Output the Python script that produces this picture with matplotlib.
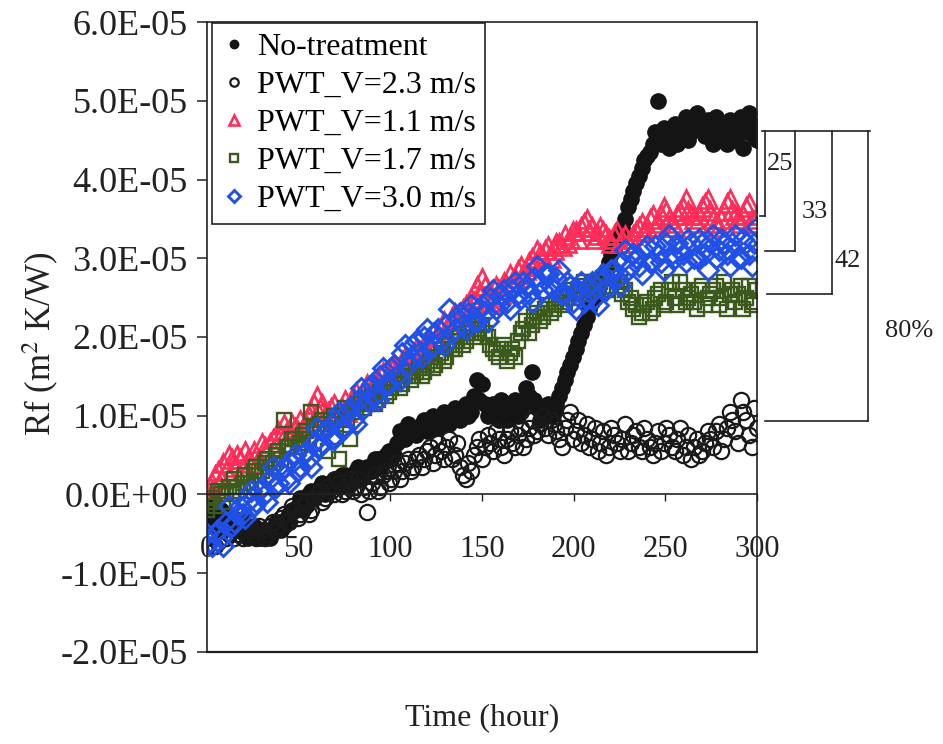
import numpy as np
import matplotlib.pyplot as plt
from matplotlib.ticker import FuncFormatter

plt.rcParams['font.family'] = ['Liberation Serif', 'DejaVu Serif']
plt.rcParams['mathtext.fontset'] = 'stix'

SCALE = 1e-5

hours = [
    0, 3, 6, 9, 12, 15, 18, 21, 24, 27, 30, 33, 36, 39, 42, 45, 48, 51, 54, 57,
    60, 63, 66, 69, 72, 75, 78, 81, 84, 87, 90, 93, 96, 99, 102, 105, 108, 111, 114, 117,
    120, 123, 126, 129, 132, 135, 138, 141, 144, 147, 150, 153, 156, 159, 162, 165, 168, 171, 174, 177,
    180, 183, 186, 189, 192, 195, 198, 201, 204, 207, 210, 213, 216, 219, 222, 225, 228, 231, 234, 237,
    240, 243, 246, 249, 252, 255, 258, 261, 264, 267, 270, 273, 276, 279, 282, 285, 288, 291, 294, 297,
    300,
]
hours_mid = [
    1.5, 4.5, 7.5, 10.5, 13.5, 16.5, 19.5, 22.5, 25.5, 28.5,
    31.5, 34.5, 37.5, 40.5, 43.5, 46.5, 49.5, 52.5, 55.5, 58.5,
    61.5, 64.5, 67.5, 70.5, 73.5, 76.5, 79.5, 82.5, 85.5, 88.5,
    91.5, 94.5, 97.5, 100.5, 103.5, 106.5, 109.5, 112.5, 115.5, 118.5,
    121.5, 124.5, 127.5, 130.5, 133.5, 136.5, 139.5, 142.5, 145.5, 148.5,
    151.5, 154.5, 157.5, 160.5, 163.5, 166.5, 169.5, 172.5, 175.5, 178.5,
    181.5, 184.5, 187.5, 190.5, 193.5, 196.5, 199.5, 202.5, 205.5, 208.5,
    211.5, 214.5, 217.5, 220.5, 223.5, 226.5, 229.5, 232.5, 235.5, 238.5,
    241.5, 244.5, 247.5, 250.5, 253.5, 256.5, 259.5, 262.5, 265.5, 268.5,
    271.5, 274.5, 277.5, 280.5, 283.5, 286.5, 289.5, 292.5, 295.5, 298.5,
]

# values in 1E-05 m2K/W, read at "hours" and at "hours_mid"
no_treatment = [
    -0.30, -0.15, -0.35, -0.25, -0.40, -0.30, -0.45, -0.40, -0.50, -0.45,
    -0.55, -0.50, -0.45, -0.35, -0.40, -0.25, -0.20, -0.05, -0.15, 0.05,
    0.00, 0.15, 0.05, 0.20, 0.10, 0.25, 0.15, 0.30, 0.20, 0.35,
    0.30, 0.45, 0.40, 0.55, 0.50, 0.80, 0.70, 0.85, 0.75, 0.90,
    0.80, 1.00, 0.85, 1.05, 0.90, 1.10, 0.95, 1.15, 1.05, 1.45,
    1.40, 1.00, 1.15, 0.95, 1.10, 1.00, 1.20, 1.05, 1.35, 1.55,
    1.10, 1.00, 1.15, 1.05, 1.25, 1.45, 1.65, 1.85, 2.05, 2.25,
    2.45, 2.60, 2.80, 2.95, 3.10, 3.30, 3.50, 3.75, 3.95, 4.15,
    4.30, 4.45, 5.00, 4.65, 4.40, 4.70, 4.55, 4.80, 4.60, 4.85,
    4.65, 4.75, 4.45, 4.70, 4.55, 4.75, 4.50, 4.80, 4.60, 4.70,
    4.50,
]
no_treatment_mid = [
    -0.40, -0.25, -0.20, -0.40, -0.30, -0.45, -0.35, -0.55, -0.40, -0.55,
    -0.45, -0.55, -0.35, -0.45, -0.30, -0.20, -0.15, -0.20, 0.00, -0.05,
    0.10, 0.00, 0.15, 0.15, 0.25, 0.10, 0.25, 0.35, 0.25, 0.30,
    0.45, 0.35, 0.50, 0.45, 0.65, 0.75, 0.90, 0.85, 0.80, 0.95,
    0.90, 0.95, 1.00, 0.95, 1.05, 1.00, 1.10, 1.00, 1.25, 1.20,
    1.15, 1.05, 1.05, 1.20, 0.95, 1.10, 1.00, 1.15, 1.25, 1.20,
    0.95, 1.10, 1.00, 1.15, 1.35, 1.55, 1.75, 1.95, 2.15, 2.35,
    2.50, 2.70, 2.85, 3.05, 3.20, 3.40, 3.65, 3.85, 4.05, 4.25,
    4.35, 4.60, 4.45, 4.55, 4.60, 4.45, 4.70, 4.50, 4.70, 4.75,
    4.55, 4.60, 4.80, 4.60, 4.45, 4.65, 4.70, 4.40, 4.85, 4.55,
]

pwt_v23 = [
    -0.65, -0.55, -0.60, -0.45, -0.50, -0.55, -0.40, -0.50, -0.45, -0.55,
    -0.45, -0.50, -0.35, -0.40, -0.25, -0.35, -0.20, -0.25, -0.10, -0.20,
    0.00, -0.10, 0.10, 0.00, 0.15, 0.05, 0.20, 0.10, 0.00, -0.22,
    0.15, 0.05, 0.25, 0.15, 0.30, 0.20, 0.40, 0.30, 0.45, 0.35,
    0.55, 0.40, 0.65, 0.45, 0.70, 0.50, 0.35, 0.20, 0.30, 0.60,
    0.45, 0.75, 0.55, 0.70, 0.50, 0.80, 0.60, 0.85, 0.70, 0.95,
    0.80, 1.00, 0.75, 0.90, 0.70, 0.85, 1.05, 0.80, 0.65, 0.90,
    0.70, 0.55, 0.80, 0.60, 0.75, 0.55, 0.90, 0.65, 0.80, 0.55,
    0.70, 0.50, 0.80, 0.65, 0.75, 0.55, 0.85, 0.60, 0.45, 0.70,
    0.55, 0.80, 0.60, 0.90, 0.70, 1.05, 0.80, 1.20, 0.95, 0.60,
    0.85,
]
pwt_v23_mid = [
    -0.50, -0.65, -0.45, -0.55, -0.40, -0.50, -0.55, -0.35, -0.50, -0.40,
    -0.55, -0.40, -0.45, -0.30, -0.35, -0.15, -0.30, -0.15, -0.25, -0.05,
    0.05, -0.05, 0.05, 0.20, 0.00, 0.15, 0.05, 0.20, 0.10, 0.05,
    0.25, 0.10, 0.30, 0.20, 0.40, 0.30, 0.45, 0.35, 0.50, 0.45,
    0.60, 0.50, 0.55, 0.60, 0.45, 0.65, 0.25, 0.40, 0.50, 0.70,
    0.60, 0.65, 0.80, 0.60, 0.70, 0.65, 0.75, 0.60, 0.85, 0.75,
    0.90, 0.85, 0.95, 0.80, 0.60, 0.95, 0.70, 0.95, 0.75, 0.60,
    0.85, 0.65, 0.50, 0.85, 0.65, 0.70, 0.55, 0.75, 0.60, 0.85,
    0.60, 0.65, 0.55, 0.85, 0.60, 0.70, 0.50, 0.75, 0.60, 0.50,
    0.65, 0.70, 0.80, 0.55, 0.85, 0.95, 0.65, 1.05, 0.75, 1.10,
]

pwt_v11 = [
    0.00, 0.15, 0.30, 0.40, 0.50, 0.35, 0.45, 0.55, 0.40, 0.50,
    0.65, 0.55, 0.70, 0.80, 0.90, 0.75, 0.85, 0.95, 0.90, 1.05,
    1.25, 1.15, 1.05, 1.15, 1.05, 1.20, 1.15, 1.30, 1.25, 1.40,
    1.35, 1.45, 1.55, 1.50, 1.65, 1.60, 1.75, 1.70, 1.85, 1.80,
    1.95, 2.05, 2.00, 2.20, 2.15, 2.30, 2.25, 2.40, 2.50, 2.65,
    2.75, 2.55, 2.50, 2.60, 2.70, 2.80, 2.75, 2.90, 2.85, 3.00,
    3.10, 3.00, 3.15, 3.10, 3.20, 3.30, 3.25, 3.35, 3.40, 3.50,
    3.40, 3.30, 3.35, 3.25, 3.30, 3.20, 3.30, 3.25, 3.35, 3.45,
    3.40, 3.55, 3.45, 3.65, 3.50, 3.40, 3.60, 3.75, 3.55, 3.45,
    3.65, 3.75, 3.50, 3.40, 3.60, 3.75, 3.55, 3.45, 3.65, 3.50,
    3.55,
]
pwt_v11_mid = [
    0.10, 0.25, 0.20, 0.30, 0.45, 0.50, 0.35, 0.45, 0.55, 0.45,
    0.60, 0.65, 0.60, 0.75, 0.80, 0.90, 0.80, 0.85, 1.00, 1.15,
    1.10, 1.00, 1.10, 1.00, 1.10, 1.05, 1.25, 1.20, 1.30, 1.30,
    1.45, 1.40, 1.45, 1.60, 1.55, 1.70, 1.65, 1.80, 1.75, 1.90,
    1.85, 1.95, 2.10, 2.05, 2.25, 2.20, 2.35, 2.30, 2.45, 2.55,
    2.65, 2.45, 2.65, 2.55, 2.65, 2.70, 2.85, 2.80, 2.95, 2.90,
    3.05, 3.10, 3.00, 3.20, 3.15, 3.20, 3.35, 3.25, 3.45, 3.35,
    3.25, 3.40, 3.30, 3.20, 3.35, 3.25, 3.20, 3.30, 3.40, 3.35,
    3.50, 3.40, 3.55, 3.60, 3.45, 3.55, 3.65, 3.60, 3.50, 3.55,
    3.70, 3.60, 3.45, 3.50, 3.70, 3.60, 3.50, 3.55, 3.70, 3.45,
]

pwt_v17 = [
    -0.20, -0.05, 0.05, -0.10, 0.10, 0.20, 0.05, 0.25, 0.15, 0.35,
    0.30, 0.45, 0.40, 0.55, 0.95, 0.60, 0.70, 0.65, 0.80, 1.05,
    0.85, 0.95, 0.55, 1.00, 0.45, 1.10, 0.70, 1.10, 1.20, 1.15,
    1.25, 1.20, 1.35, 1.30, 1.40, 1.35, 1.50, 1.45, 1.55, 1.50,
    1.65, 1.60, 1.75, 1.70, 1.90, 1.85, 2.00, 1.95, 2.10, 2.05,
    2.15, 2.00, 1.85, 1.75, 1.90, 1.80, 1.75, 2.05, 2.20, 2.15,
    2.30, 2.25, 2.40, 2.35, 2.50, 2.45, 2.60, 2.55, 2.65, 2.55,
    2.70, 2.60, 2.75, 2.65, 2.80, 2.70, 2.60, 2.50, 2.40, 2.30,
    2.45, 2.35, 2.55, 2.40, 2.60, 2.50, 2.70, 2.45, 2.55, 2.35,
    2.65, 2.50, 2.60, 2.40, 2.70, 2.55, 2.45, 2.65, 2.50, 2.40,
    2.60,
]
pwt_v17_mid = [
    -0.10, -0.15, 0.00, 0.05, 0.00, 0.10, 0.15, 0.10, 0.30, 0.25,
    0.40, 0.35, 0.50, 0.45, 0.60, 0.70, 0.60, 0.75, 0.70, 0.85,
    0.90, 0.85, 0.95, 0.90, 1.00, 0.95, 1.05, 1.15, 1.10, 1.20,
    1.15, 1.30, 1.25, 1.35, 1.45, 1.40, 1.55, 1.50, 1.60, 1.55,
    1.70, 1.65, 1.80, 1.75, 1.85, 1.95, 1.90, 2.05, 2.00, 2.10,
    2.05, 1.90, 1.80, 1.85, 1.70, 1.85, 1.95, 2.10, 2.05, 2.25,
    2.20, 2.35, 2.30, 2.45, 2.40, 2.55, 2.50, 2.60, 2.70, 2.60,
    2.65, 2.70, 2.60, 2.75, 2.65, 2.55, 2.45, 2.35, 2.25, 2.40,
    2.30, 2.50, 2.60, 2.45, 2.70, 2.40, 2.60, 2.50, 2.45, 2.60,
    2.40, 2.55, 2.65, 2.50, 2.35, 2.60, 2.55, 2.35, 2.65, 2.45,
]

pwt_v30 = [
    -0.50, -0.65, -0.45, -0.65, -0.15, -0.35, -0.15, -0.30, 0.05, -0.10,
    0.10, -0.10, 0.35, 0.15, 0.35, 0.15, 0.50, 0.35, 0.55, 0.35,
    0.85, 0.65, 0.85, 0.70, 1.05, 0.85, 1.10, 0.90, 1.35, 1.20,
    1.40, 1.20, 1.60, 1.40, 1.65, 1.45, 1.90, 1.75, 1.95, 1.75,
    2.10, 1.90, 2.10, 1.90, 2.35, 2.10, 2.30, 2.10, 2.40, 2.20,
    2.40, 2.20, 2.60, 2.40, 2.60, 2.35, 2.70, 2.50, 2.65, 2.45,
    2.90, 2.60, 2.80, 2.60, 2.85, 2.55, 2.65, 2.35, 2.70, 2.50,
    2.70, 2.40, 2.80, 2.65, 2.85, 2.65, 3.10, 2.90, 3.00, 2.80,
    3.15, 2.95, 3.05, 2.85, 3.30, 3.00, 3.10, 2.95, 3.20, 3.00,
    3.20, 2.85, 3.30, 3.10, 3.20, 2.90, 3.30, 3.00, 3.20, 2.90,
    3.40,
]
pwt_v30_mid = [
    -0.60, -0.50, -0.55, -0.35, -0.40, -0.25, -0.25, -0.10, -0.15, 0.05,
    0.00, 0.20, 0.10, 0.30, 0.20, 0.40, 0.30, 0.50, 0.45, 0.65,
    0.60, 0.80, 0.70, 0.95, 0.85, 1.05, 0.95, 1.20, 1.10, 1.35,
    1.25, 1.50, 1.40, 1.60, 1.50, 1.80, 1.65, 1.90, 1.80, 2.00,
    1.85, 2.05, 1.95, 2.15, 2.05, 2.25, 2.15, 2.30, 2.20, 2.35,
    2.30, 2.50, 2.35, 2.55, 2.45, 2.60, 2.55, 2.70, 2.55, 2.75,
    2.70, 2.80, 2.65, 2.75, 2.55, 2.70, 2.45, 2.60, 2.45, 2.65,
    2.50, 2.70, 2.60, 2.85, 2.75, 2.95, 2.85, 3.05, 2.90, 3.10,
    2.95, 3.15, 2.95, 3.20, 3.05, 3.20, 3.05, 3.25, 3.00, 3.25,
    3.05, 3.20, 3.00, 3.25, 3.05, 3.20, 3.00, 3.25, 3.05, 3.20,
]

# reduction brackets on the right
top_level = 4.61
bracket_labels = ['25', '33', '42', '80%']
bracket_levels = [3.54, 3.09, 2.55, 0.93]
bracket_x = [304.4, 320.7, 340.9, 360.5]
bracket_foot_start = [301.6, 304.4, 305.5, 304.4]
label_pos = [(305.5, 4.2), (331.6, 3.59), (349.6, 2.97), (383.0, 2.08)]

t = np.array(hours + hours_mid)
fig, ax = plt.subplots(figsize=(9.43, 7.44), dpi=100)
fig.subplots_adjust(left=0.2195, right=0.8028, bottom=0.1237, top=0.9704)

ink = '#222222'
ax.plot(t, np.array(no_treatment + no_treatment_mid) * SCALE, 'o', ms=11,
        color='#141414', mec='#141414', label='No-treatment')
ax.plot(t, np.array(pwt_v23 + pwt_v23_mid) * SCALE, 'o', ms=11, mfc='none',
        mec='#1a1a1a', mew=1.6, label='PWT_V=2.3 m/s')
ax.plot(t, np.array(pwt_v11 + pwt_v11_mid) * SCALE, '^', ms=13, mfc='none',
        mec='#ff2d58', mew=1.9, label='PWT_V=1.1 m/s')
ax.plot(t, np.array(pwt_v17 + pwt_v17_mid) * SCALE, 's', ms=10, mfc='none',
        mec='#3b5a1c', mew=1.7, label='PWT_V=1.7 m/s')
ax.plot(t, np.array(pwt_v30 + pwt_v30_mid) * SCALE, 'D', ms=10.5, mfc='none',
        mec='#2150e6', mew=2.1, label='PWT_V=3.0 m/s')

ax.set_xlim(0, 300)
ax.set_ylim(-2e-5, 6e-5)
ax.set_xticks([0, 50, 100, 150, 200, 250, 300])
ax.set_yticks(np.array([-2, -1, 0, 1, 2, 3, 4, 5, 6]) * SCALE)
ax.yaxis.set_major_formatter(FuncFormatter(lambda v, p: f"{v:.1E}"))

ax.spines['bottom'].set_position(('data', 0))
for s in ax.spines.values():
    s.set_color(ink)
    s.set_linewidth(1.2)
ax.axhline(-2e-5, color=ink, lw=1.6, clip_on=False)

ax.tick_params(axis='y', direction='out', length=7, width=1.1, pad=7, labelsize=26, colors=ink)
ax.tick_params(axis='x', direction='out', length=5, width=1.0, pad=24, labelsize=22, colors=ink)

ax.set_ylabel('Rf (m$^{2}$ K/W)', fontsize=25, color=ink)
ax.yaxis.set_label_coords(-0.265, 0.49)
ax.text(0.5, -0.105, 'Time (hour)', transform=ax.transAxes, ha='center', va='center',
        fontsize=23, color=ink)

leg = ax.legend(loc='upper left', bbox_to_anchor=(0.009, 0.998), borderaxespad=0,
                fontsize=23, markerscale=0.55, handlelength=0.8, handletextpad=0.3,
                borderpad=0.3, labelspacing=0.27, fancybox=False, framealpha=1)
leg.get_frame().set_edgecolor(ink)
leg.get_frame().set_linewidth(1.2)

# brackets with percentage reductions
ax.plot([302.7, 361.6], [top_level * SCALE, top_level * SCALE], color=ink, lw=1.2, clip_on=False)
for lab, lev, bx, fx, (lx, ly) in zip(bracket_labels, bracket_levels, bracket_x,
                                      bracket_foot_start, label_pos):
    ax.plot([bx, bx], [top_level * SCALE, lev * SCALE], color=ink, lw=1.2, clip_on=False)
    ax.plot([fx, bx], [lev * SCALE, lev * SCALE], color=ink, lw=1.2, clip_on=False)
    ha = 'left' if lab == '25' else 'center'
    ax.text(lx, ly * SCALE, lab, fontsize=19, color=ink, ha=ha, va='center')

plt.savefig('out.png')
